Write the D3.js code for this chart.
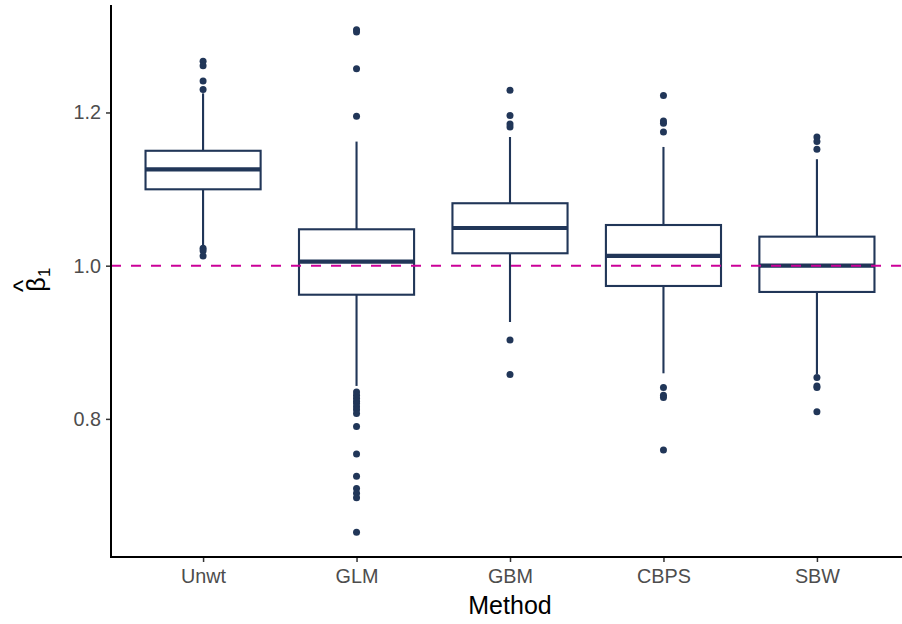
<!DOCTYPE html>
<html>
<head>
<meta charset="utf-8">
<script src="https://cdn.jsdelivr.net/npm/d3@7"></script>
<style>
  body { margin: 0; background: #fff; }
  svg { display: block; font-family: "Liberation Sans", Arial, sans-serif; }
</style>
</head>
<body>
<div id="chart"></div>
<script>
// methods on the x axis
const methods = ['Unwt', 'GLM', 'GBM', 'CBPS', 'SBW'];

// box statistics (same order as methods)
const lowerWhisker = [1.024, 0.843, 0.9265, 0.8595, 0.8586];
const q1 = [1.0997, 0.9621, 1.0162, 0.9735, 0.9657];
const medians = [1.1258, 1.0052, 1.0492, 1.0127, 1.0];
const q3 = [1.150, 1.0475, 1.0815, 1.0531, 1.0379];
const upperWhisker = [1.225, 1.162, 1.168, 1.155, 1.139];

// outlying points per method
const outliers = [
  [1.267, 1.261, 1.241, 1.230, 1.0227, 1.0196, 1.0127],
  [1.308, 1.305, 1.257, 1.195, 0.835, 0.831, 0.827, 0.823, 0.820, 0.816, 0.812, 0.807,
   0.790, 0.754, 0.725, 0.709, 0.703, 0.697, 0.652],
  [1.229, 1.196, 1.185, 1.181, 0.903, 0.858],
  [1.222, 1.189, 1.186, 1.1745, 0.841, 0.831, 0.828, 0.7594],
  [1.168, 1.162, 1.152, 0.854, 0.843, 0.841, 0.8094]
];

const yTicks = [0.8, 1.0, 1.2];
const refValue = 1.0;

const W = 902, H = 624;
const BOX = '#213658';
const REF = '#cc0099';

const svg = d3.select('#chart').append('svg')
  .attr('width', W)
  .attr('height', H);

const x = d3.scalePoint()
  .domain(methods)
  .range([111, 909])
  .padding(0.6);

const y = d3.scaleLinear()
  .domain([0.6197, 1.3403])
  .range([557, 5]);

const boxW = x.step() * 0.75;

const stats = methods.map((m, i) => ({
  m: m, lo: lowerWhisker[i], q1: q1[i], med: medians[i], q3: q3[i], hi: upperWhisker[i], out: outliers[i]
}));

const g = svg.append('g').attr('class', 'boxes');

// whiskers
g.selectAll('line.whisker-hi')
  .data(stats)
  .enter().append('line')
  .attr('class', 'whisker-hi')
  .attr('x1', d => x(d.m)).attr('x2', d => x(d.m))
  .attr('y1', d => y(d.q3)).attr('y2', d => y(d.hi))
  .style('stroke', BOX).style('stroke-width', 2.1);

g.selectAll('line.whisker-lo')
  .data(stats)
  .enter().append('line')
  .attr('class', 'whisker-lo')
  .attr('x1', d => x(d.m)).attr('x2', d => x(d.m))
  .attr('y1', d => y(d.q1)).attr('y2', d => y(d.lo))
  .style('stroke', BOX).style('stroke-width', 2.1);

// boxes
g.selectAll('rect')
  .data(stats)
  .enter().append('rect')
  .attr('x', d => x(d.m) - boxW / 2)
  .attr('width', boxW)
  .attr('y', d => y(d.q3))
  .attr('height', d => y(d.q1) - y(d.q3))
  .style('fill', '#fff')
  .style('stroke', BOX)
  .style('stroke-width', 2.1);

// medians
g.selectAll('line.median')
  .data(stats)
  .enter().append('line')
  .attr('class', 'median')
  .attr('x1', d => x(d.m) - boxW / 2).attr('x2', d => x(d.m) + boxW / 2)
  .attr('y1', d => y(d.med)).attr('y2', d => y(d.med))
  .style('stroke', BOX).style('stroke-width', 4.2);

// outliers
g.selectAll('g.out')
  .data(stats)
  .enter().append('g')
  .attr('class', 'out')
  .selectAll('circle')
  .data(d => d.out.map(v => ({m: d.m, v: v})))
  .enter().append('circle')
  .attr('cx', d => x(d.m))
  .attr('cy', d => y(d.v))
  .attr('r', 3.5)
  .style('fill', BOX);

// reference line, drawn over the boxes
svg.append('line')
  .attr('x1', 111).attr('x2', W)
  .attr('y1', y(refValue)).attr('y2', y(refValue))
  .style('stroke', REF)
  .style('stroke-width', 2)
  .style('stroke-dasharray', '10,10');

// axes
const yAxis = d3.axisLeft(y).tickValues(yTicks).tickFormat(d3.format('.1f')).tickSize(5).tickPadding(5);
const xAxis = d3.axisBottom(x).tickSize(5).tickPadding(7);

const ya = svg.append('g').attr('transform', 'translate(111,0)').call(yAxis);
const xa = svg.append('g').attr('transform', 'translate(0,557)').call(xAxis);

[ya, xa].forEach(a => {
  a.select('.domain').remove();
  a.selectAll('.tick line').style('stroke', '#333').style('stroke-width', 1.5);
  a.selectAll('.tick text')
    .style('fill', '#4d4d4d')
    .style('font-size', '19.8px')
    .style('font-family', '"Liberation Sans", Arial, sans-serif');
});

// axis lines
svg.append('line')
  .attr('x1', 111).attr('x2', 111).attr('y1', 5).attr('y2', 558)
  .style('stroke', '#000').style('stroke-width', 2);
svg.append('line')
  .attr('x1', 110).attr('x2', W).attr('y1', 557).attr('y2', 557)
  .style('stroke', '#000').style('stroke-width', 2);

// x title
svg.append('text')
  .attr('x', 510).attr('y', 614)
  .attr('text-anchor', 'middle')
  .style('font-size', '25px')
  .style('fill', '#000')
  .text('Method');

// y title: beta hat sub 1, centred on the panel
const yl = svg.append('g').attr('transform', 'translate(45,281) rotate(-90)');
yl.append('text')
  .attr('x', -3.5).attr('y', 0)
  .attr('text-anchor', 'middle')
  .style('font-size', '25px')
  .text('β');
yl.append('text')
  .attr('x', -5).attr('y', -13.5)
  .attr('text-anchor', 'middle')
  .style('font-size', '26px')
  .text('^');
yl.append('text')
  .attr('x', 4).attr('y', 5)
  .style('font-size', '17px')
  .text('1');
</script>
</body>
</html>
